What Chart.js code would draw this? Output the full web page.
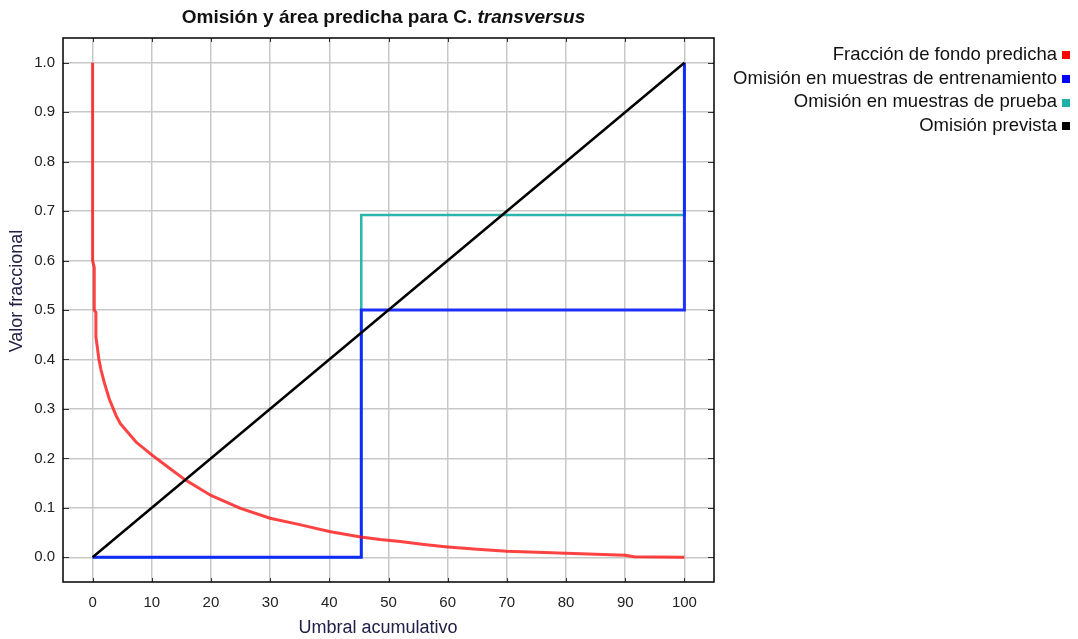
<!DOCTYPE html>
<html>
<head>
<meta charset="utf-8">
<script src="https://cdn.jsdelivr.net/npm/chart.js@4.4.1/dist/chart.umd.min.js"></script>
<style>
  body { margin: 0; background: #fff; font-family: "Liberation Sans", Arial, sans-serif; }
  #wrap { position: relative; width: 1078px; height: 639px; }
  #title { position: absolute; left: 63px; width: 641px; top: 6px; text-align: center;
           font-weight: bold; font-size: 19px; color: #111; }
  #legend { position: absolute; right: 8px; top: 42px; text-align: right;
            font-size: 18.5px; color: #111; line-height: 23.7px; }
  .sw { display: inline-block; width: 8px; height: 8px; margin-left: 5px; vertical-align: middle; }
</style>
</head>
<body>
<div id="wrap">
  <canvas id="chart" width="1078" height="639"></canvas>
  <div id="title">Omisión y área predicha para C. <i>transversus</i></div>
  <div id="legend"></div>
</div>
<script>
// Ticks
const xTicks = [0, 10, 20, 30, 40, 50, 60, 70, 80, 90, 100];
const yTicks = [0, 0.1, 0.2, 0.3, 0.4, 0.5, 0.6, 0.7, 0.8, 0.9, 1.0];

// Predicted background fraction
const bgX = [0, 0, 0.28, 0.28, 0.56, 0.56, 1.07, 1.4, 1.98, 2.82, 3.95, 4.7, 5.65, 7.34, 10, 13, 15.7, 20, 25, 30, 35, 40, 45.3, 48.6, 52, 56, 60, 65, 70, 75, 80, 85, 90, 91.5, 100];
const bgY = [1.0, 0.6, 0.586, 0.5, 0.495, 0.446, 0.4, 0.38, 0.353, 0.32, 0.287, 0.27, 0.257, 0.233, 0.207, 0.18, 0.156, 0.125, 0.099, 0.079, 0.066, 0.052, 0.041, 0.036, 0.032, 0.026, 0.021, 0.016, 0.012, 0.01, 0.008, 0.006, 0.004, 0.001, 0];

// Omission step curves
const stepX = [0, 45.4, 45.4, 100, 100];
const trainY = [0, 0, 0.5, 0.5, 1.0];
const testY = [0, 0, 0.692, 0.692, 1.0];

// Predicted omission
const predX = [0, 100];
const predY = [0, 1];

const labels = [
    'Fracción de fondo predicha',
    'Omisión en muestras de entrenamiento',
    'Omisión en muestras de prueba',
    'Omisión prevista'
];
const swatches = ['#ff0000', '#0000ff', '#1fb0a8', '#000000'];
const xTitle = 'Umbral acumulativo';
const yTitle = 'Valor fraccional';

function pts(xs, ys) {
    return xs.map((x, i) => ({ x: x, y: ys[i] }));
}

// HTML legend, right aligned with the swatch after the text
document.getElementById('legend').innerHTML = labels.map((l, i) =>
    `<div>${l}<span class="sw" style="background:${swatches[i]}"></span></div>`).join('');

// Box around the plot with inward tick marks, plus the axis titles
const frame = {
    id: 'frame',
    afterDraw(chart) {
        const { ctx, chartArea: a, scales } = chart;
        ctx.save();
        ctx.strokeStyle = '#333';
        ctx.lineWidth = 1;
        ctx.beginPath();
        xTicks.forEach(v => {
            const px = Math.round(scales.x.getPixelForValue(v)) + 0.5;
            ctx.moveTo(px, a.top); ctx.lineTo(px, a.top + 4);
            ctx.moveTo(px, a.bottom); ctx.lineTo(px, a.bottom - 4);
        });
        yTicks.forEach(v => {
            const py = Math.round(scales.y.getPixelForValue(v)) + 0.5;
            ctx.moveTo(a.left, py); ctx.lineTo(a.left + 6, py);
            ctx.moveTo(a.right, py); ctx.lineTo(a.right - 6, py);
        });
        ctx.stroke();
        ctx.strokeStyle = '#000';
        ctx.lineWidth = 1.5;
        ctx.strokeRect(a.left, a.top, a.right - a.left, a.bottom - a.top);

        ctx.fillStyle = '#202048';
        ctx.font = '18px "Liberation Sans", Arial, sans-serif';
        ctx.textAlign = 'center';
        ctx.textBaseline = 'middle';
        ctx.fillText(xTitle, 378, 628);
        ctx.translate(17, 291);
        ctx.rotate(-Math.PI / 2);
        ctx.fillText(yTitle, 0, 0);
        ctx.restore();
    }
};

const tickFont = { family: '"Liberation Sans", Arial, sans-serif', size: 15 };

new Chart(document.getElementById('chart'), {
    type: 'line',
    data: {
        datasets: [
            {
                label: labels[3],
                data: pts(predX, predY),
                borderColor: '#000000',
                borderWidth: 2.5
            },
            {
                label: labels[0],
                data: pts(bgX, bgY),
                borderColor: 'rgba(255, 20, 20, 0.8)',
                borderWidth: 3
            },
            {
                label: labels[1],
                data: pts(stepX, trainY),
                borderColor: 'rgba(10, 30, 255, 0.9)',
                borderWidth: 3
            },
            {
                label: labels[2],
                data: pts(stepX, testY),
                borderColor: '#2ab5ad',
                borderWidth: 2.5
            }
        ]
    },
    options: {
        responsive: false,
        animation: false,
        layout: { padding: { left: 0, right: 364, top: 38, bottom: 0 } },
        elements: { point: { radius: 0 }, line: { tension: 0 } },
        plugins: { legend: { display: false }, tooltip: { enabled: false } },
        scales: {
            x: {
                type: 'linear',
                min: -5,
                max: 105,
                afterBuildTicks: axis => { axis.ticks = xTicks.map(v => ({ value: v })); },
                afterFit: scale => { scale.height = 57; },
                ticks: { font: tickFont, color: '#222', padding: 12 },
                grid: { color: '#c8c8c8', lineWidth: 1.5, drawTicks: false },
                border: { display: false }
            },
            y: {
                type: 'linear',
                min: -0.05,
                max: 1.05,
                afterBuildTicks: axis => { axis.ticks = yTicks.map(v => ({ value: v })); },
                afterFit: scale => { scale.width = 63; },
                ticks: { font: tickFont, color: '#222', padding: 8, callback: v => v.toFixed(1) },
                grid: { color: '#c8c8c8', lineWidth: 1.5, drawTicks: false },
                border: { display: false }
            }
        }
    },
    plugins: [frame]
});
</script>
</body>
</html>
